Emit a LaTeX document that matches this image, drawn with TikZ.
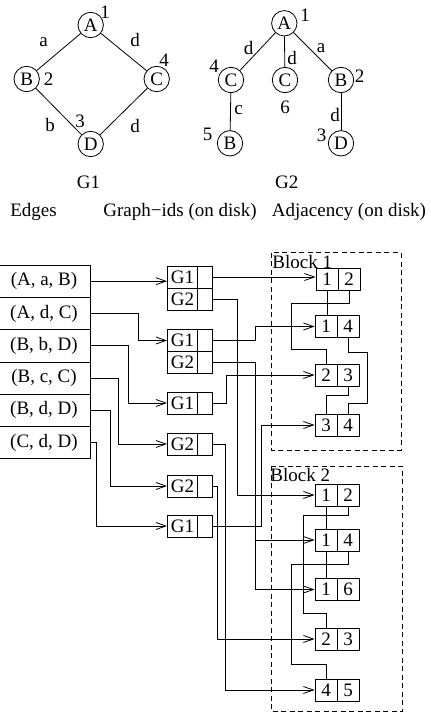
\documentclass[tikz,border=0pt]{standalone}
\usepackage{fontspec}
\setmainfont{Liberation Serif}
\usetikzlibrary{arrows.meta}
\begin{document}
\begin{tikzpicture}[x=1bp, y=-1bp, line width=0.8bp,
  font=\fontsize{19bp}{22bp}\selectfont,
  vtx/.style={circle, draw, minimum size=25.4bp, inner sep=0pt},
  tag/.style={inner sep=0pt},
  row/.style={draw, minimum width=92bp, minimum height=32.3bp, inner sep=0pt},
  gid/.style={draw, minimum width=30bp, minimum height=22bp, inner sep=0pt},
  ptr/.style={draw, minimum width=15bp, minimum height=22bp, inner sep=0pt},
  half/.style={draw, minimum width=22bp, minimum height=22bp, inner sep=0pt},
  feed/.style={-{Straight Barb[length=10bp, width=7bp]}},
  blockframe/.style={dash pattern=on 5bp off 3.5bp},
]
\useasboundingbox (0,0) rectangle (430,713);

% ---------- graph G1 ----------
\node[vtx] (a1) at (90.7,25) {A};
\node[vtx] (b1) at (26.7,79) {B};
\node[vtx] (c1) at (156.7,79) {C};
\node[vtx] (d1) at (90.7,144) {D};
\draw (a1) -- (b1);
\draw (a1) -- (c1);
\draw (b1) -- (d1);
\draw (c1) -- (d1);
\node[tag] (a1n) at (105,12.5) {1};
\node[tag] (b1n) at (48.5,79) {2};
\node[tag] (d1n) at (80,121.5) {3};
\node[tag] (c1n) at (164,60) {4};
\node[tag] (e1a) at (43.5,42) {a};
\node[tag] (e1b) at (135,40) {d};
\node[tag] (e1c) at (50,125) {b};
\node[tag] (e1d) at (135,126) {d};
\node[tag, anchor=base] (g1name) at (88.5,188) {G1};

% ---------- graph G2 ----------
\node[vtx] (a2) at (284.3,23.3) {A};
\node[vtx] (c2) at (231,80) {C};
\node[vtx] (c6) at (285,80) {C};
\node[vtx] (b2) at (341,80) {B};
\node[vtx] (b5) at (230,143.3) {B};
\node[vtx] (d2) at (341,143.3) {D};
\draw (a2) -- (c2);
\draw (a2) -- (c6);
\draw (a2) -- (b2);
\draw (c2) -- (b5);
\draw (b2) -- (d2);
\node[tag] (a2n) at (305,15) {1};
\node[tag] (c2n) at (214,66) {4};
\node[tag] (c6n) at (285,107) {6};
\node[tag] (b2n) at (359.5,76) {2};
\node[tag] (b5n) at (207.5,134.5) {5};
\node[tag] (d2n) at (321.5,135) {3};
\node[tag] (e2a) at (248.5,48.5) {d};
\node[tag] (e2b) at (292,58.5) {d};
\node[tag] (e2c) at (321,48.5) {a};
\node[tag] (e2d) at (238.5,110) {c};
\node[tag] (e2e) at (335,115) {d};
\node[tag, anchor=base] (g2name) at (286.7,188) {G2};

% ---------- column headings ----------
\node[tag, anchor=base] (hedges) at (33.5,216) {Edges};
\node[tag, anchor=base] (hgid) at (180,216) {Graph−ids (on disk)};
\node[tag, anchor=base] (hadj) at (349,216) {Adjacency (on disk)};

% ---------- edge list ----------
\node[row] (r1) at (44,281.2) {(A, a, B)};
\node[row] (r2) at (44,313.5) {(A, d, C)};
\node[row] (r3) at (44,345.8) {(B, b, D)};
\node[row] (r4) at (44,378.1) {(B, c, C)};
\node[row] (r5) at (44,410.4) {(B, d, D)};
\node[row] (r6) at (44,442.7) {(C, d, D)};

% ---------- graph-id records ----------
\node[gid] (g1a) at (182.5,277) {G1};
\node[ptr] (p1a) at (205,277) {};
\node[gid] (g1b) at (182.5,299) {G2};
\node[ptr] (p1b) at (205,299) {};
\node[gid] (g2a) at (182.5,340.5) {G1};
\node[ptr] (p2a) at (205,340.5) {};
\node[gid] (g2b) at (182.5,362.5) {G2};
\node[ptr] (p2b) at (205,362.5) {};
\node[gid] (g3) at (182.5,403) {G1};
\node[ptr] (p3) at (205,403) {};
\node[gid] (g4) at (182.5,444) {G2};
\node[ptr] (p4) at (205,444) {};
\node[gid] (g5) at (182.5,486) {G2};
\node[ptr] (p5) at (205,486) {};
\node[gid] (g6) at (182.5,526) {G1};
\node[ptr] (p6) at (205,526) {};

% ---------- adjacency blocks ----------
\draw[blockframe] (271.7,252.7) rectangle (401,450);
\draw[blockframe] (271.7,466) rectangle (402.3,711.5);
\node[tag, anchor=base west] (blk1) at (272,268) {Block 1};
\node[tag, anchor=base west] (blk2) at (270,481.5) {Block 2};

% block 1 entries
\node[half] (c11a) at (327,279) {1};   \node[half] (c11b) at (349,279) {2};
\node[half] (c12a) at (326,326.5) {1}; \node[half] (c12b) at (348,326.5) {4};
\node[half] (c13a) at (326,375) {2};   \node[half] (c13b) at (348,375) {3};
\node[half] (c14a) at (326,425) {3};   \node[half] (c14b) at (348,425) {4};
% block 2 entries
\node[half] (c21a) at (326,495) {1};   \node[half] (c21b) at (348,495) {2};
\node[half] (c22a) at (326,540) {1};   \node[half] (c22b) at (348,540) {4};
\node[half] (c23a) at (326,589.5) {1}; \node[half] (c23b) at (348,589.5) {6};
\node[half] (c24a) at (326,639) {2};   \node[half] (c24b) at (348,639) {3};
\node[half] (c25a) at (326,690) {4};   \node[half] (c25b) at (348,690) {5};

% ---------- edges -> graph-ids ----------
\draw[feed] (r1.east) -- (r1.east -| g1a.west);
\draw[feed] (r2.east) -- ++(48,0) |- (g2a.west);
\draw[feed] (r3.east) -- ++(38,0) |- (g3.west);
\draw[feed] (r4.east) -- ++(28,0) |- (g4.west);
\draw[feed] (r5.east) -- ++(20,0) |- (g5.west);
\draw[feed] (r6.east) -- ++(6,0) |- (g6.west);

% ---------- graph-ids -> adjacency entries ----------
\draw[feed] (p1a.east) -- (p1a.east -| c11a.west);
\draw[feed] (p1b.east) -- ++(24.5,0) |- (c21a.west);
\draw[feed] (p2a.east) -- ++(42,0) |- (c12a.west);
\draw[feed] (p2b.east) -- ++(42,0) coordinate (fork) |- (c23a.west);
\draw[feed] (fork |- c22a.west) -- (c22a.west);
\draw[feed] (p3.east) -- ++(13,0) |- (c13a.west);
\draw[feed] (p4.east) -- ++(12.5,0) |- (c25a.west);
\draw[feed] (p5.east) -- ++(4,0) |- (c24a.west);
\draw[feed] (p6.east) -- ++(48.5,0) |- (c14a.west);

% ---------- links inside block 1 ----------
\draw (c11a.south) -- (c11a.south |- c12a.north);
\draw (c11b.south) -- ++(0,13) -| (291,349) -| (c13a.north);
\draw (c12b.south) -- ++(0,14.5) -| (367,403) -| (c14b.north);
\draw (c13b.south) -- ++(0,9) -| (c14a.north);

% ---------- links inside block 2 ----------
\draw (c21a.south) -- (c22a.north);
\draw (c21b.south) -- ++(0,9) -| (303,613) -| (c24a.north);
\draw (c22a.south) -- (c23a.north);
\draw (c22b.south) -- ++(0,13) -| (291.5,664) -| (c25a.north);
\end{tikzpicture}
\end{document}
